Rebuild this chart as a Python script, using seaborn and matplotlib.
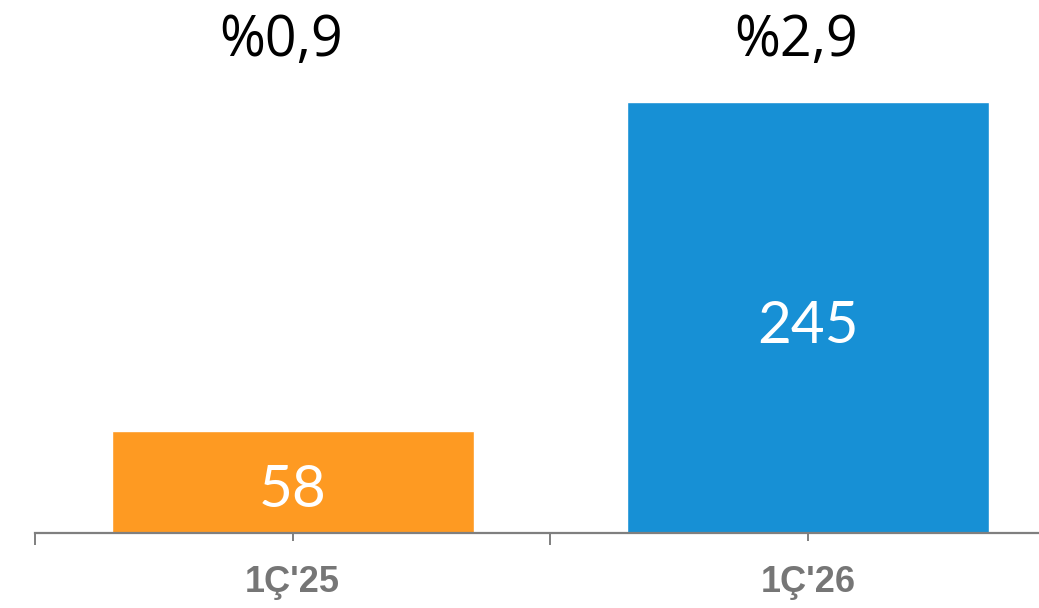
import matplotlib
matplotlib.use("Agg")
import matplotlib.pyplot as plt
import seaborn as sns
import pandas as pd

# Chart data
periods = ["1Ç'25", "1Ç'26"]
values = [58, 245]
ratios = ["%0,9", "%2,9"]
bar_colors = ["#FE9A22", "#1790D5"]

sns.set_theme(style="white")
plt.rcParams["font.family"] = ["DejaVu Sans"]

df = pd.DataFrame({"period": periods, "value": values})

fig = plt.figure(figsize=(10.39, 6.08), dpi=100)
ax = fig.add_axes([35 / 1039, 75 / 608, 1030.5 / 1039, 431 / 608])

sns.barplot(data=df, x="period", y="value", hue="period",
            palette=bar_colors, width=0.703, legend=False, ax=ax,
            saturation=1)

ax.set_xlim(-0.5, 1.5)
ax.set_ylim(0, max(values))
ax.set_xlabel("")
ax.set_ylabel("")
ax.set_yticks([])

for side in ["top", "left", "right"]:
    ax.spines[side].set_visible(False)
axis_grey = "#7F7F7F"
ax.spines["bottom"].set_color(axis_grey)
ax.spines["bottom"].set_linewidth(1.6)

# Category ticks cross the axis; boundary ticks hang below it
ax.set_xticks(range(len(periods)))
ax.set_xticklabels(periods, fontsize=26, fontweight="bold",
                   color="#767676", family="Liberation Sans")
ax.set_xticks([-0.5, 0.5, 1.5], minor=True)
ax.tick_params(axis="x", which="major", direction="inout", length=12,
               width=1.4, color=axis_grey, pad=17, bottom=True)
ax.tick_params(axis="x", which="minor", direction="out", length=8.5,
               width=1.4, color=axis_grey, bottom=True)

# Values inside the bars
for i, v in enumerate(values):
    ax.text(i, v / 2 - 5, str(v), ha="center", va="center",
            color="white", fontsize=42, fontweight="normal", family="Lato")

# Ratios above the plot, set slightly left of the bar centres
trans = ax.get_xaxis_transform()
for i, r in enumerate(ratios):
    ax.text(i - 0.023, 1.14, r, ha="center", va="center", transform=trans,
            color="black", fontsize=40, family="Open Sans", clip_on=False)

fig.savefig("out.png", dpi=100)
